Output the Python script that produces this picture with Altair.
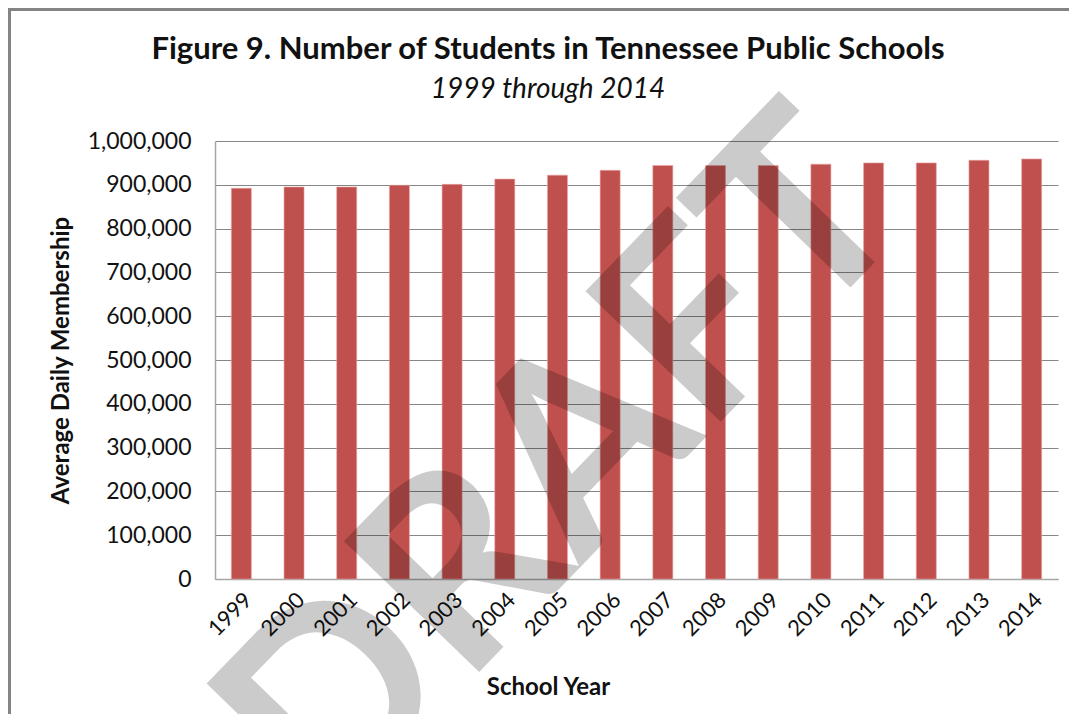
import altair as alt
import pandas as pd

years = ["1999", "2000", "2001", "2002", "2003", "2004", "2005", "2006",
         "2007", "2008", "2009", "2010", "2011", "2012", "2013", "2014"]
students = [892000, 895000, 895000, 899000, 901000, 913000, 922000, 933000,
            944000, 944000, 944000, 947000, 950000, 950000, 956000, 959000]

title_text = "Figure 9. Number of Students in Tennessee Public Schools"
subtitle_text = "1999 through 2014"
watermark_text = "DRAFT"

df = pd.DataFrame({"year": years, "students": students})

FONT = "Lato"

bars = alt.Chart(df).mark_bar(color="#c0504d", stroke="#e8a5a3", strokeWidth=0.6).encode(
    x=alt.X("year:N", sort=years, title="School Year",
            scale=alt.Scale(paddingInner=0.62, paddingOuter=0.31),
            axis=alt.Axis(labelAngle=-45, labelFontSize=22, labelFont=FONT,
                          labelColor="#111", labelPadding=10, ticks=False,
                          domainColor="#a6a6a6", domainWidth=1.5,
                          titleFont=FONT, titleFontSize=24, titleFontWeight="bold",
                          titleColor="#111", titleX=333, titleY=108,
                          titleBaseline="middle", titleAnchor="middle")),
    y=alt.Y("students:Q", title="Average Daily Membership",
            scale=alt.Scale(domain=[0, 1000000]),
            axis=alt.Axis(values=list(range(0, 1000001, 100000)), format=",d",
                          labelFontSize=23, labelFont=FONT, labelColor="#111",
                          labelPadding=24, ticks=False,
                          domainColor="#a6a6a6", domainWidth=1.5,
                          gridColor="#868686", gridWidth=1.2,
                          titleFont=FONT, titleFontSize=24, titleFontWeight="bold",
                          titleColor="#111", titlePadding=14)),
)

frame = alt.Chart(df).mark_rect(fillOpacity=0, stroke="#858585", strokeWidth=2.5).encode(
    x=alt.value(-206), x2=alt.value(900), y=alt.value(-132), y2=alt.value(700)
)

title = alt.Chart(pd.DataFrame({"t": [title_text]})).mark_text(
    font=FONT, fontSize=31, fontWeight="bold", color="#111",
    align="center", baseline="alphabetic"
).encode(text="t:N", x=alt.value(333), y=alt.value(-82))

subtitle = alt.Chart(pd.DataFrame({"t": [subtitle_text]})).mark_text(
    font=FONT, fontSize=28, fontStyle="italic", color="#111",
    align="center", baseline="alphabetic"
).encode(text="t:N", x=alt.value(333), y=alt.value(-43))

watermark = alt.Chart(pd.DataFrame({"t": [watermark_text]})).mark_text(
    font=FONT, fontSize=260, fontWeight="bold", angle=314, align="center",
    baseline="alphabetic", color="black", opacity=0.2
).encode(text="t:N", x=alt.value(407), y=alt.value(383))

chart = alt.layer(frame, bars, title, subtitle, watermark).properties(
    width=843, height=438,
    autosize=alt.AutoSizeParams(type="none"),
    padding={"left": 207, "top": 133, "right": 11, "bottom": 135},
).configure_view(stroke=None)

chart.save("out.html", embed_options={"renderer": "svg", "actions": False})
